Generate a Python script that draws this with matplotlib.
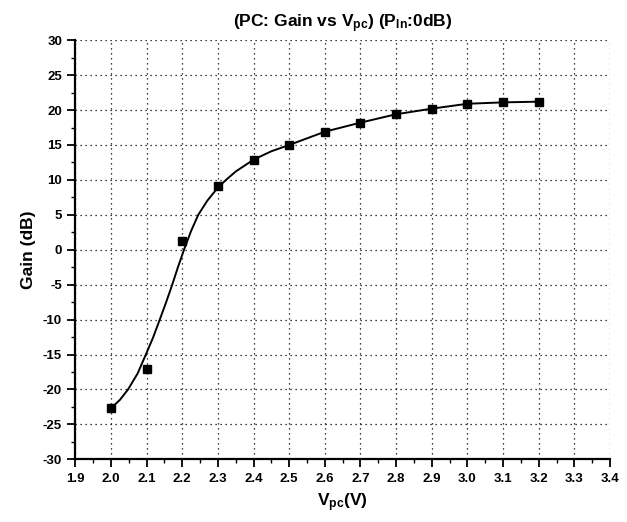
import matplotlib
matplotlib.use("Agg")
import matplotlib.pyplot as plt
from matplotlib.ticker import MultipleLocator

# measured points
vpc = [2.0, 2.1, 2.2, 2.3, 2.4, 2.5, 2.6, 2.7, 2.8, 2.9, 3.0, 3.1, 3.2]
gain = [-22.7, -17.1, 1.3, 9.1, 12.9, 15.0, 16.9, 18.2, 19.4, 20.2, 20.9, 21.1, 21.2]

# fitted curve
fit_v = [2.0, 2.025, 2.048, 2.075, 2.098, 2.118, 2.137, 2.155, 2.172, 2.188, 2.205,
         2.225, 2.245, 2.27, 2.3, 2.325, 2.35, 2.4, 2.45, 2.5, 2.6, 2.7, 2.8, 2.9,
         3.0, 3.1, 3.2]
fit_gain = [-22.7, -21.5, -20.0, -17.7, -15.0, -12.6, -10.0, -7.5, -5.0, -2.5, 0.0,
            2.7, 5.0, 7.0, 8.9, 10.1, 11.2, 12.9, 14.1, 15.0, 16.9, 18.2, 19.4, 20.2,
            20.9, 21.1, 21.2]

xticks = [1.9, 2.0, 2.1, 2.2, 2.3, 2.4, 2.5, 2.6, 2.7, 2.8, 2.9, 3.0, 3.1, 3.2, 3.3, 3.4]
yticks = [-30, -25, -20, -15, -10, -5, 0, 5, 10, 15, 20, 25, 30]

plt.rcParams['font.family'] = ['Liberation Sans', 'DejaVu Sans']
plt.rcParams['font.weight'] = 'bold'
plt.rcParams['axes.unicode_minus'] = False
plt.rcParams['mathtext.fontset'] = 'custom'
plt.rcParams['mathtext.rm'] = 'Liberation Sans:bold'
plt.rcParams['mathtext.bf'] = 'Liberation Sans:bold'
plt.rcParams['mathtext.default'] = 'bf'

fig = plt.figure(figsize=(6.27, 5.22), dpi=100)
ax = fig.add_axes([0.120, 0.120, 0.853, 0.803])

ax.plot(fit_v, fit_gain, color='black', lw=1.4, solid_joinstyle='round')
ax.plot(vpc, gain, 's', color='black', markersize=5.5)

ax.set_xlim(1.9, 3.4)
ax.set_ylim(-30, 30)
ax.set_xticks(xticks)
ax.set_xticklabels([f"{t:.1f}" for t in xticks])
ax.set_yticks(yticks)
ax.set_yticklabels([str(t) for t in yticks])
ax.xaxis.set_minor_locator(MultipleLocator(0.05))
ax.yaxis.set_minor_locator(MultipleLocator(2.5))
ax.tick_params(which='major', direction='out', length=6, width=1.3, labelsize=9.5)
ax.tick_params(which='minor', direction='out', length=3, width=1.0)
for lab in ax.get_xticklabels() + ax.get_yticklabels():
    lab.set_fontweight('bold')

ax.grid(True, which='major', linestyle=(0, (1, 3)), color='black', linewidth=0.9)
ax.spines['top'].set_visible(False)
ax.spines['right'].set_visible(False)
ax.spines['left'].set_linewidth(1.6)
ax.spines['bottom'].set_linewidth(1.6)

ax.set_title(r"(PC: Gain vs V$_{pc}$) (P$_{In}$:0dB)", fontsize=12.5, fontweight='bold', pad=9)
ax.set_xlabel(r"V$_{pc}$(V)", fontsize=12.5, fontweight='bold', labelpad=5)
ax.set_ylabel("Gain (dB)", fontsize=12.5, fontweight='bold', labelpad=5)

fig.savefig("out.png", dpi=100)
